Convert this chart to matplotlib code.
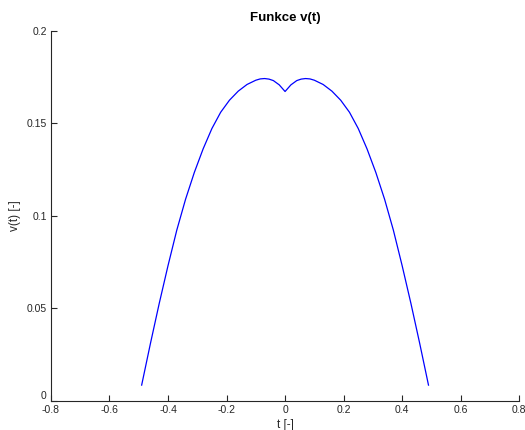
import matplotlib.pyplot as plt

# values
t_vals = [-0.49, -0.46, -0.43, -0.40, -0.37, -0.34, -0.31, -0.28, -0.25,
          -0.22, -0.19, -0.16, -0.13, -0.10, -0.085, -0.07, -0.055, -0.04,
          -0.02, 0.0,
          0.02, 0.04, 0.055, 0.07, 0.085, 0.10, 0.13, 0.16, 0.19, 0.22,
          0.25, 0.28, 0.31, 0.34, 0.37, 0.40, 0.43, 0.46, 0.49]
v_vals = [0.0086, 0.0311, 0.0527, 0.0731, 0.0923, 0.1090, 0.1235, 0.1362, 0.1472,
          0.1560, 0.1625, 0.1674, 0.1710, 0.1733, 0.1740, 0.1742, 0.1739, 0.1731,
          0.1708, 0.1672,
          0.1708, 0.1731, 0.1739, 0.1742, 0.1740, 0.1733, 0.1710, 0.1674, 0.1625,
          0.1560, 0.1472, 0.1362, 0.1235, 0.1090, 0.0923, 0.0731, 0.0527, 0.0311,
          0.0086]

xticks = [-0.8, -0.6, -0.4, -0.2, 0, 0.2, 0.4, 0.6, 0.8]
xtick_labels = ["-0.8", "-0.6", "-0.4", "-0.2", "0", "0.2", "0.4", "0.6", "0.8"]
yticks = [0, 0.05, 0.1, 0.15, 0.2]
ytick_labels = ["0", "0.05", "0.1", "0.15", "0.2"]

plt.rcParams['font.family'] = ['Liberation Sans', 'DejaVu Sans']

fig = plt.figure(figsize=(5.25, 4.3), dpi=100)
ax = fig.add_axes([0.097, 0.0674, 0.892, 0.861])
ax.plot(t_vals, v_vals, color='#0000ff', linewidth=0.9)

ax.set_xlim(-0.8, 0.8)
ax.set_ylim(0, 0.2)
ax.set_xticks(xticks)
ax.set_xticklabels(xtick_labels)
ax.set_yticks(yticks)
ax.set_yticklabels(ytick_labels)
# the "0" sits a little above the axis corner, as in the original
ax.get_yticklabels()[0].set_va('bottom')

for s in ['top', 'right']:
    ax.spines[s].set_visible(False)
for s in ['left', 'bottom']:
    ax.spines[s].set_color('#262626')
    ax.spines[s].set_linewidth(0.8)
ax.tick_params(direction='in', length=4, width=0.8, color='#262626',
               labelsize=7.5, labelcolor='#262626', pad=3)

ax.set_title("Funkce v(t)", fontsize=9.5, fontweight='bold', pad=7)
ax.set_xlabel("t [-]", fontsize=8.5, labelpad=3, color='#262626')
ax.set_ylabel("v(t) [-]", fontsize=8.5, labelpad=4, color='#262626')

plt.savefig('out.png')
